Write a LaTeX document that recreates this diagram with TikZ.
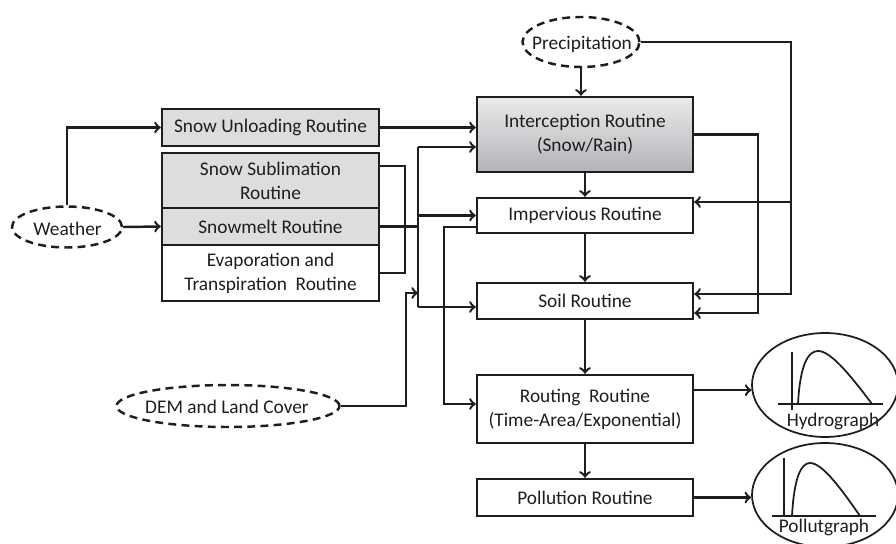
\documentclass[tikz,border=0pt]{standalone}
\usepackage{fontspec}
\setmainfont{Carlito}
\usetikzlibrary{shapes.geometric}
\definecolor{boxgray}{HTML}{DCDDDF}
\definecolor{shadetop}{HTML}{EAEAEC}
\definecolor{shadebot}{HTML}{B3B4B7}
\definecolor{ink}{HTML}{1E1E1E}
\begin{document}
\begin{tikzpicture}[x=0.02cm,y=-0.02cm,font=\fontsize{11}{13.6}\selectfont,line width=1.4pt,draw=ink,text=ink]
  \tikzstyle{routine}=[draw, rectangle, align=center, inner sep=0pt, minimum width=4.34cm]
  \tikzstyle{centre}=[routine, minimum width=4.32cm]
  \tikzstyle{source}=[draw, ellipse, dash pattern=on 4.5pt off 3pt, inner sep=0pt]
  \tikzstyle{graphbox}=[draw, ellipse, line width=1pt, inner sep=0pt, minimum width=2.92cm, minimum height=2.08cm]
  \tikzstyle{arr}=[->]
  \useasboundingbox (0,0) rectangle (896,544);
  % inputs
  \node[source, minimum width=2.2cm, minimum height=0.82cm] (weather) at (67,227) {};
  \node (weather-t) at (67.5,229) {Weather};
  \node[source, minimum width=2.34cm, minimum height=1.0cm] (precip) at (581,42) {};
  \node (precip-t) at (582,44) {Precipitation};
  \node[source, minimum width=4.46cm, minimum height=0.84cm] (dem) at (228,406) {};
  \node (dem-t) at (227,407) {DEM and Land Cover};
  % left routines
  \node[routine, fill=boxgray, minimum height=0.74cm] (unload) at (270.5,127.5) {Snow Unloading Routine};
  \node[routine, fill=boxgray, minimum height=1.1cm] (sublim) at (270.5,180.5) {Snow Sublimation\\Routine};
  \node[routine, fill=boxgray, minimum height=0.74cm] (melt) at (270.5,226.5) {Snowmelt Routine};
  \node[routine, minimum height=1.12cm] (evap) at (270.5,273) {Evaporation and\\Transpiration~ Routine};
  % main column
  \node[centre, top color=shadetop, bottom color=shadebot, minimum height=1.5cm] (intercept) at (585,134.5) {Interception Routine\\(Snow/Rain)};
  \node[centre, minimum height=0.7cm] (imperv) at (585,215.5) {Impervious Routine};
  \node[centre, minimum height=0.72cm] (soil) at (585,301) {Soil Routine};
  \node[centre, minimum height=1.36cm] (routing) at (585,409) {Routing~ Routine\\(Time-Area/Exponential)};
  \node[centre, minimum height=0.74cm] (pollution) at (585,497.5) {Pollution Routine};
  % outputs
  \node[graphbox] (hydro) at (825,385) {};
  \node[graphbox] (pollut) at (825,495) {};
  \node (hydro-t) at (833,421) {Hydrograph};
  \node (pollut-t) at (824,527) {Pollutgraph};
  \draw (792,352) -- (792,410);
  \draw (778,404) -- (883,404);
  \draw[line width=1pt] (798,404) .. controls (800,365) and (808,351) .. (818,351) .. controls (830,351) and (848,372) .. (872,404);
  \draw (784,458) -- (784,516);
  \draw (772,516) -- (876,516);
  \draw[line width=1pt] (792,516) .. controls (794,478) and (801,463) .. (810,463) .. controls (822,463) and (840,487) .. (860,516);
  % helper points
  \coordinate (bustop) at (418,147);
  \coordinate (busbot) at (418,307);
  \coordinate (brk) at (405,166);
  \coordinate (demup) at (406,293);
  \coordinate (side) at (444,227);
  \coordinate (pimp) at (791,202);
  \coordinate (psoil) at (791,294);
  \coordinate (iloop) at (758,313);
  % connectors
  \draw[arr] (weather.east) -- (melt.west);
  \draw[arr] (weather.north) |- (unload.west);
  \draw[arr] (unload.east) -- (unload.east -| intercept.west);
  \draw (melt.east) -- (melt.east -| bustop);
  \draw (brk -| sublim.east) -- (brk) |- (evap.east);
  \draw[arr] (bustop) -- (bustop -| intercept.west);
  \draw (bustop) -- (busbot);
  \draw[arr] (bustop |- imperv.west) -- (imperv.west);
  \draw[arr] (busbot) -- (busbot -| soil.west);
  \draw[arr] (dem.east) -| (demup) -- (demup -| bustop);
  \draw[arr] (side -| imperv.west) -- (side) |- ([yshift=0.1cm]routing.west);
  \draw[arr] (precip.south) -- (precip.south |- intercept.north);
  \draw[arr] (intercept) -- (imperv);
  \draw[arr] (imperv) -- (soil);
  \draw[arr] (soil) -- (routing);
  \draw[arr] (routing) -- (pollution);
  \draw[arr] (precip.east) -| (psoil) -- (psoil -| soil.east);
  \draw[arr] (pimp) -- (pimp -| imperv.east);
  \draw[arr] (intercept.east) -| (iloop) -- (iloop -| soil.east);
  \draw[arr] (routing.east |- hydro.184) -- (hydro.184);
  \draw[arr] (pollution.east) -- (pollution.east -| pollut.west);
  %\draw (hydro) -- (pollut);
\end{tikzpicture}
\end{document}
